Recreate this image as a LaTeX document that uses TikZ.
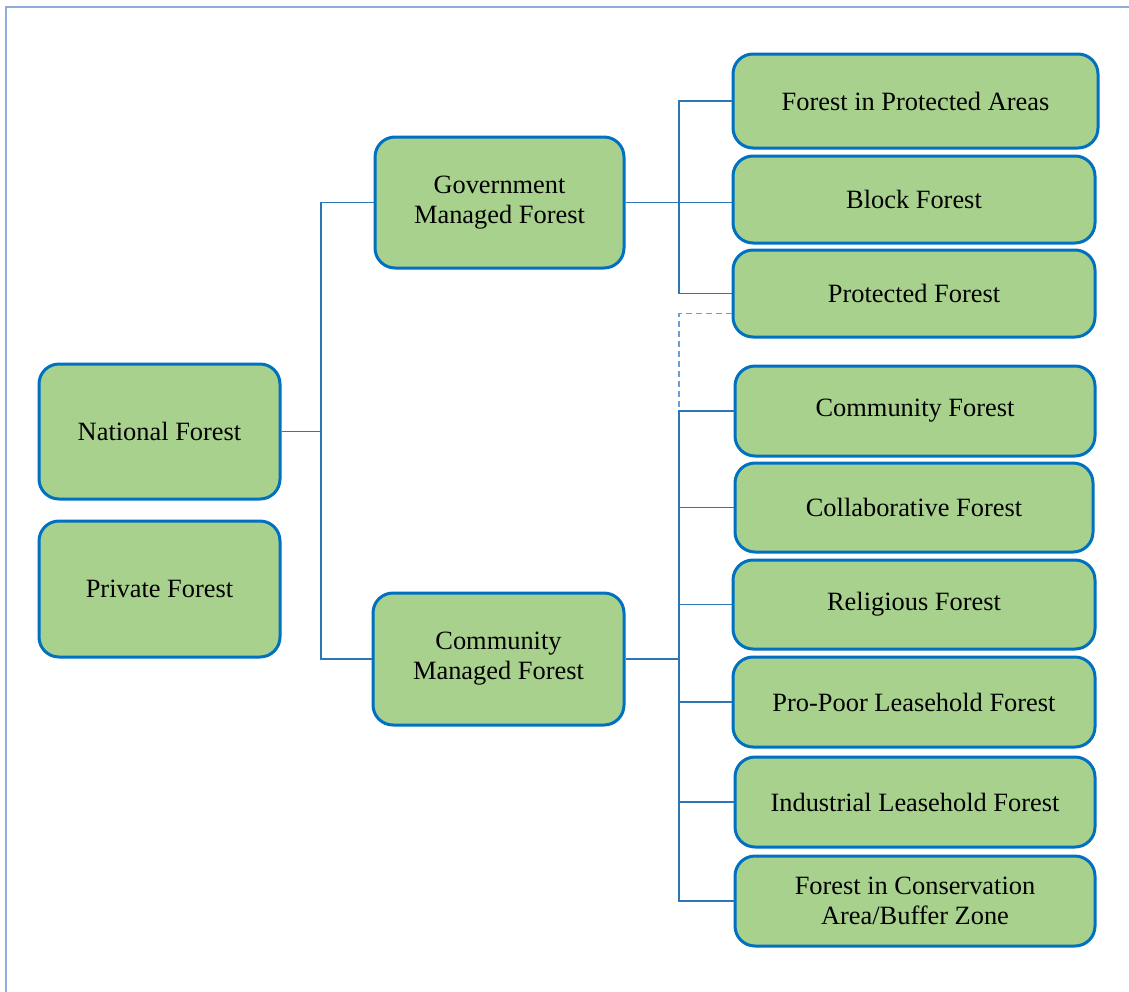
\documentclass[tikz,border=0pt]{standalone}
\usepackage{fontspec}
\setmainfont{Liberation Serif}
\definecolor{boxfill}{HTML}{A9D18E}
\definecolor{boxline}{HTML}{0070C0}
\definecolor{linkcol}{HTML}{2E75B6}
\definecolor{framecol}{HTML}{8FAADC}
\tikzset{
  box/.style={draw=boxline, line width=1.5pt, fill=boxfill, rounded corners=10pt,
    align=center, inner sep=0pt, font=\fontsize{13.2pt}{15pt}\selectfont},
  link/.style={draw=linkcol, line width=0.7pt},
  dlink/.style={draw=linkcol!70, line width=0.7pt, dash pattern=on 3pt off 2pt}
}
\begin{document}
\begin{tikzpicture}[x=0.5pt, y=-0.5pt]
\useasboundingbox (0,0) rectangle (1129,991);
\clip (0,0) rectangle (1129,991);
% outer frame
\draw[framecol, line width=1pt] (6,1010) -- (6,7) -- (1150,7);

% left column
\node[box, minimum width=120.5pt, minimum height=67.5pt] (nat) at (159.5,431.5) {National Forest};
\node[box, minimum width=120.5pt, minimum height=68pt] (priv) at (159.5,589) {Private Forest};

% middle column
\node[box, minimum width=124.5pt, minimum height=65.5pt] (gov) at (499.5,202.5) {Government\\Managed Forest};
\node[box, minimum width=125.5pt, minimum height=66pt] (com) at (498.5,659) {Community\\Managed Forest};

% right column
\node[box, minimum width=182.5pt, minimum height=47pt] (fpa) at (915.5,101) {Forest in Protected Areas};
\node[box, minimum width=181pt, minimum height=43.5pt] (blk) at (914,199.5) {Block Forest};
\node[box, minimum width=181pt, minimum height=43.5pt] (pf) at (914,293.5) {Protected Forest};
\node[box, minimum width=180pt, minimum height=45pt] (cf) at (915,411) {Community Forest};
\node[box, minimum width=179pt, minimum height=44.5pt] (col) at (914,507.5) {Collaborative Forest};
\node[box, minimum width=181pt, minimum height=44.5pt] (rel) at (914,604.5) {Religious Forest};
\node[box, minimum width=181pt, minimum height=45pt] (ppl) at (914,702) {Pro-Poor Leasehold Forest};
\node[box, minimum width=180pt, minimum height=45pt] (ind) at (915,802) {Industrial Leasehold Forest};
\node[box, minimum width=180pt, minimum height=45pt] (fca) at (915,901) {Forest in Conservation\\Area/Buffer Zone};

% branch columns
\coordinate (trunk) at (321,0);
\coordinate (gx) at (679,0);

% national forest to the two management types
\draw[link] (nat.east) -- (nat.east -| trunk);
\draw[link] (gov.west) -- (gov.west -| trunk) -- (com.west -| trunk) -- (com.west);

% government managed branch
\draw[link] (gov.east) -- (gov.east -| blk.west);
\draw[link] (fpa.west) -- (fpa.west -| gx) -- (pf.west -| gx) -- (pf.west);

% dashed link from protected forest
\draw[dlink] ([yshift=-10pt]pf.west) -| (cf.west -| gx);

% community managed branch
\draw[link] (com.east) -- (com.east -| gx);
\draw[link] (cf.west) -- (cf.west -| gx) -- (fca.west -| gx) -- (fca.west);
\foreach \n in {col,rel,ppl,ind}
  \draw[link] (\n.west) -- (\n.west -| gx);
\end{tikzpicture}
\end{document}
